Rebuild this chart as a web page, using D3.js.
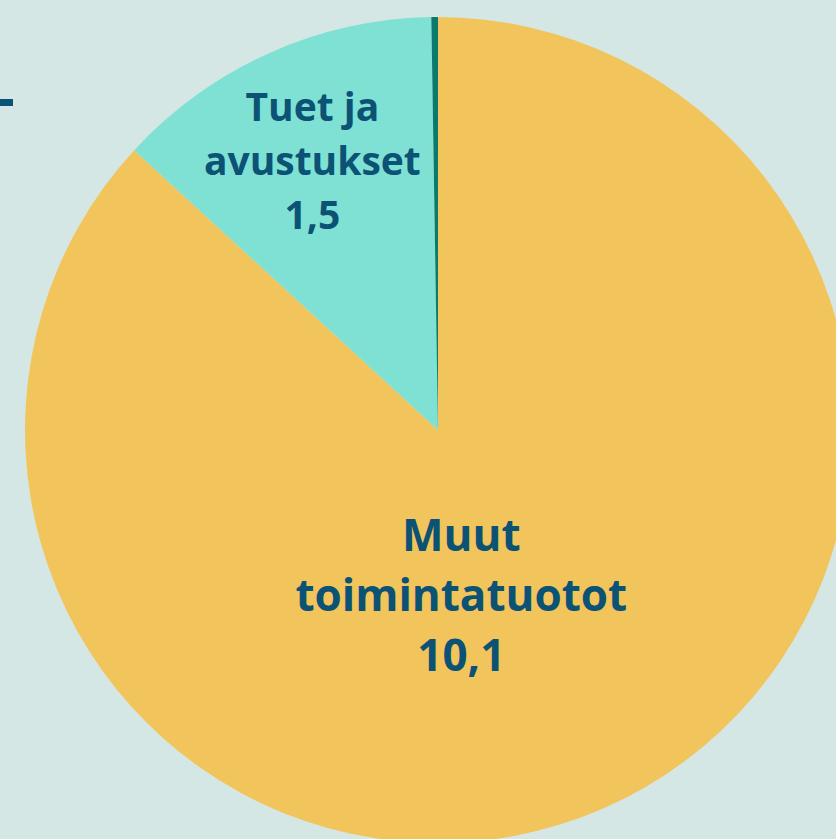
<!DOCTYPE html>
<html><head><meta charset="utf-8">
<script src="https://cdn.jsdelivr.net/npm/d3@7"></script>
<style>html,body{margin:0;padding:0;background:#d5e7e5;overflow:hidden}</style>
</head><body>
<svg id="c" width="836" height="839"></svg>
<script>
const categories = ["Muut toimintatuotot", "Tuet ja avustukset", "Muut"];
const values = [10.1, 1.5, 0.03];
const labelLines = [["Muut", "toimintatuotot", "10,1"], ["Tuet ja", "avustukset", "1,5"], []];
const colors = ["#f1c55b", "#7fe1d4", "#0b7a6c"];

const W = 836, H = 839;
const cx = 438, cy = 430, R = 413;
const svg = d3.select("#c");
svg.append("rect").attr("width", W).attr("height", H).attr("fill", "#d5e7e5");
svg.append("rect").attr("x", 0).attr("y", 99).attr("width", 13).attr("height", 7).attr("fill", "#0b5277");

const pie = d3.pie().sort(null).value(d => d)(values);
const arc = d3.arc().innerRadius(0).outerRadius(R);
const g = svg.append("g").attr("transform", `translate(${cx},${cy})`);
g.selectAll("path").data(pie).join("path")
  .attr("d", arc).attr("fill", (d, i) => colors[i]);

// label anchor (angle deg clockwise from top, radius fraction), font size, line height
const labelCfg = [
  {ang: 172, rf: 0.405, fs: 44, lh: 60},
  {ang: -25, rf: 0.72, fs: 39, lh: 54}
];
labelCfg.forEach((c, i) => {
  const a = c.ang * Math.PI / 180;
  const x = Math.sin(a) * R * c.rf, y = -Math.cos(a) * R * c.rf;
  const lines = labelLines[i];
  const t = g.append("text").attr("text-anchor", "middle")
    .attr("font-family", "'Open Sans', sans-serif").attr("font-weight", 700)
    .attr("font-size", c.fs).attr("fill", "#0b5274");
  lines.forEach((l, j) => {
    t.append("tspan").attr("x", x)
      .attr("y", y + (j - (lines.length - 1) / 2) * c.lh + c.fs * 0.36)
      .text(l);
  });
});
</script>
</body></html>
